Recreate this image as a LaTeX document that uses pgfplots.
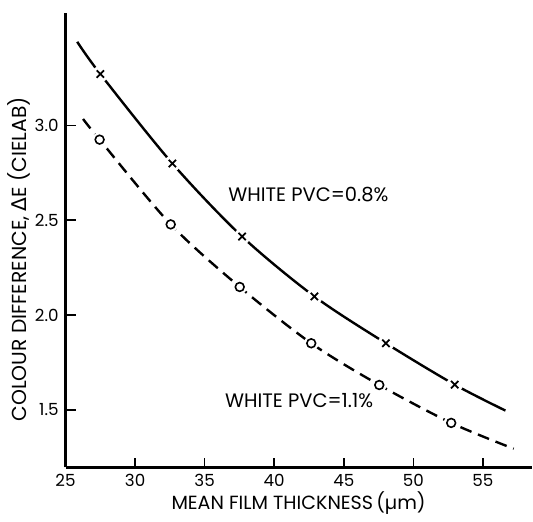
\documentclass[border=0pt]{standalone}
\usepackage{fontspec}
\setmainfont{Poppins}
\newfontfamily\dejavu{DejaVu Sans}
\usepackage{pgfplots}
\pgfplotsset{compat=1.18}

\begin{document}
\begin{tikzpicture}
\begin{axis}[
    at={(0,0)}, anchor=south west,
    scale only axis,
    width=233.65bp, height=227.85bp,
    xmin=25, xmax=58.5,
    ymin=1.196, ymax=3.593,
    axis x line=bottom, axis y line=left,
    axis line style={-, line width=1.4bp},
    tick align=inside,
    major tick length=5bp,
    tick style={line width=0.8bp, black},
    xtick={25,30,...,55},
    ytick={1.5,2.0,2.5,3.0},
    /pgf/number format/assume math mode=true,
    yticklabel style={/pgf/number format/.cd, fixed, fixed zerofill, precision=1},
    tick label style={font=\fontsize{8.4}{9}\selectfont},
    xlabel={MEAN FILM THICKNESS\,(µm)},
    ylabel={COLOUR DIFFERENCE, {\dejavu Δ}E (CIELAB)},
    label style={font=\fontsize{9.6}{11}\selectfont},
    xlabel style={at={(rel axis cs:0.5,0)}, anchor=base, yshift=-21.2bp},
    ylabel style={at={([xshift=-23.6bp]rel axis cs:0,0.458)}, anchor=center,
        font=\fontsize{10.2}{11}\selectfont},
]

% white PVC = 0.8 %
\addplot[black, line width=1.2bp, smooth] coordinates {
    (25.84,3.441) (27.50,3.271) (32.68,2.799) (37.69,2.414)
    (42.89,2.098) (48.03,1.851) (52.97,1.633) (56.62,1.496)
};
\addplot[white, only marks, mark=*, mark size=3.9bp] coordinates {
    (27.50,3.271) (32.68,2.799) (37.69,2.414) (42.89,2.098) (48.03,1.851) (52.97,1.633)
};
\addplot[black, only marks, mark=x, mark size=2.6bp, mark options={line width=0.9bp}] coordinates {
    (27.50,3.271) (32.68,2.799) (37.69,2.414) (42.89,2.098) (48.03,1.851) (52.97,1.633)
};

% white PVC = 1.1 %
\addplot[black, line width=1.2bp, smooth, dash pattern=on 6bp off 3.5bp] coordinates {
    (26.26,3.034) (27.45,2.925) (32.56,2.478) (37.52,2.148)
    (42.66,1.851) (47.55,1.631) (52.72,1.431) (57.21,1.295)
};
\addplot[white, only marks, mark=*, mark size=3.5bp] coordinates {
    (27.45,2.925) (32.56,2.478) (37.52,2.148) (42.66,1.851) (47.55,1.631) (52.72,1.431)
};
\addplot[black, only marks, mark=o, mark size=2.2bp, mark options={line width=0.8bp, fill=white}] coordinates {
    (27.45,2.925) (32.56,2.478) (37.52,2.148) (42.66,1.851) (47.55,1.631) (52.72,1.431)
};

\node[anchor=west, font=\fontsize{9.8}{11}\selectfont] at (axis cs:36.2,2.633) {WHITE PVC=0.8\%};
\node[anchor=west, font=\fontsize{9.8}{11}\selectfont] at (axis cs:35.97,1.547) {WHITE PVC=1.1\%};
\end{axis}
\path[use as bounding box] (-32.85bp,-22.65bp) rectangle (233.65bp,234.35bp);
\end{tikzpicture}
\end{document}
